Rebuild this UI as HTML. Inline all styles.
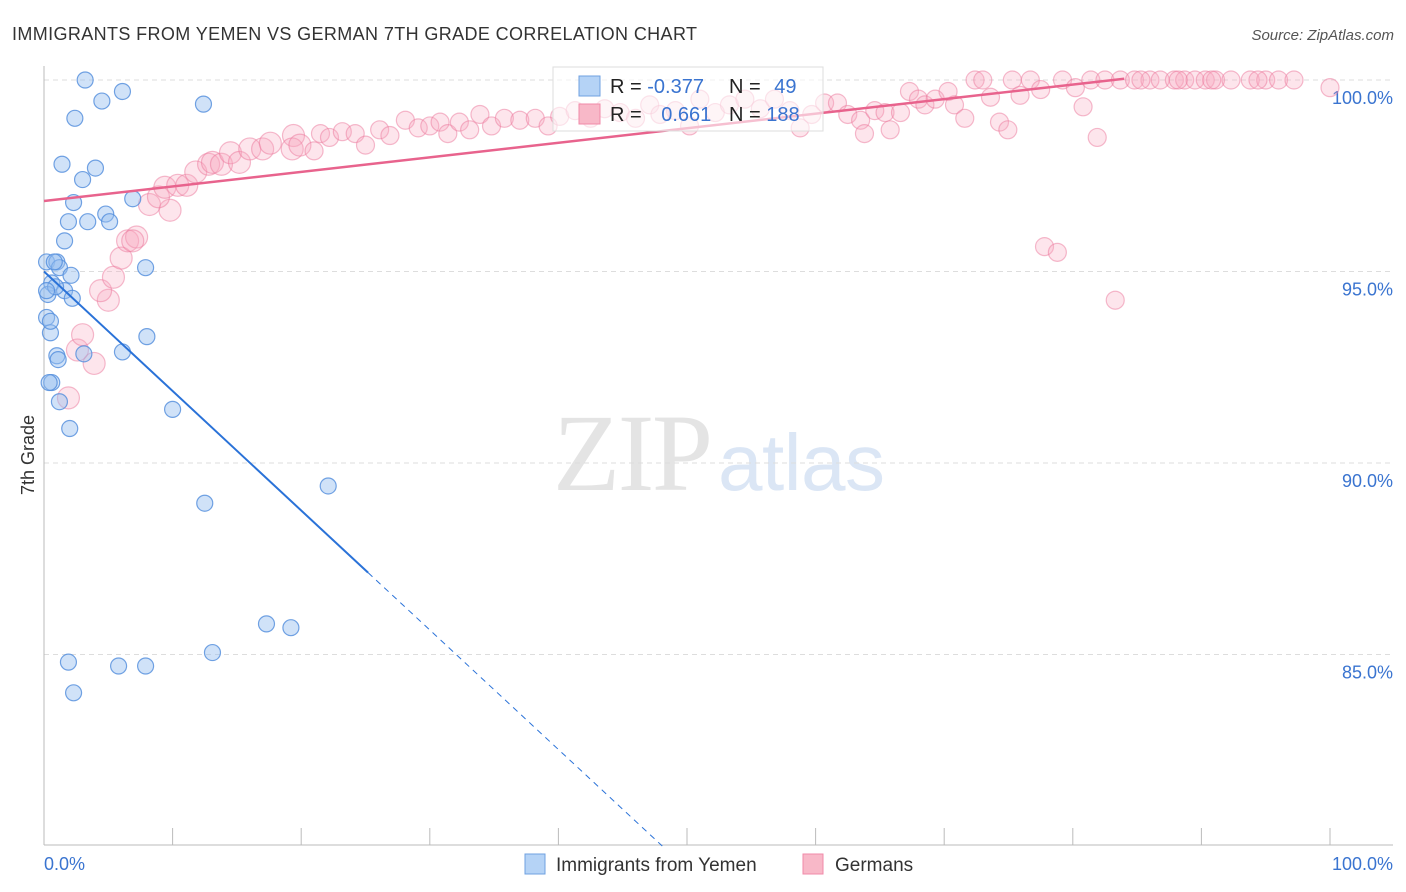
<!DOCTYPE html>
<html><head><meta charset="utf-8">
<style>
body{margin:0;background:#fff;font-family:"Liberation Sans",sans-serif;}
svg{display:block}
</style></head>
<body>
<svg id="chart" width="1406" height="892" viewBox="0 0 1406 892">
<text x="12" y="40" font-size="18" fill="#333" textLength="685">IMMIGRANTS FROM YEMEN VS GERMAN 7TH GRADE CORRELATION CHART</text>
<text x="1394" y="40" font-size="15" fill="#555" font-style="italic" text-anchor="end">Source: ZipAtlas.com</text>
<g>
<text x="553" y="490" font-family="Liberation Serif,serif" font-size="110" fill="#e4e4e4" textLength="160">ZIP</text>
<text x="718" y="490" font-size="80" fill="#dbe6f5" textLength="167">atlas</text>
</g>
<g id="grid"></g>
<g id="axes"></g>
<text transform="translate(34,455) rotate(-90)" font-size="18" fill="#333" text-anchor="middle">7th Grade</text>
<g id="pts"></g>
<g id="trend"></g>
<g>
<rect x="553" y="67" width="270" height="64" fill="#fff" fill-opacity="0.6" stroke="#ddd"/>
<rect x="579" y="76" width="21" height="20" fill="#b5d3f6" stroke="#6fa0e0"/>
<rect x="579" y="104" width="21" height="20" fill="#f8b8c8" stroke="#f08aa8"/>
<text x="610" y="93" font-size="20" fill="#222">R = <tspan fill="#3a74d0">-0.377</tspan></text>
<text x="729" y="93" font-size="20" fill="#222">N = <tspan fill="#3a74d0" dx="8">49</tspan></text>
<text x="610" y="121" font-size="20" fill="#222">R = <tspan fill="#3a74d0" dx="14">0.661</tspan></text>
<text x="729" y="121" font-size="20" fill="#222">N = <tspan fill="#3a74d0">188</tspan></text>
</g>
<g>
<rect x="525" y="854" width="20" height="20" fill="#b5d3f6" stroke="#6fa0e0"/>
<text x="556" y="871" font-size="19" fill="#333">Immigrants from Yemen</text>
<rect x="803" y="854" width="20" height="20" fill="#f8b8c8" stroke="#f08aa8"/>
<text x="835" y="871" font-size="19" fill="#333">Germans</text>
</g>
</svg>
<script>
const yTicks=[100,95,90,85];
const yTickLabels=["100.0%","95.0%","90.0%","85.0%"];
const xTicks=[0,10,20,30,40,50,60,70,80,90,100];
const blueX=[3.2,6.1,4.5,12.4,2.4,1.4,4.0,3.0,2.3,6.9,1.9,3.4,4.8,5.1,1.6,0.2,1.0,1.2,2.1,7.9,0.6,1.6,2.2,0.3,0.2,0.5,8.0,6.1,1.0,3.1,0.6,0.4,1.2,10.0,2.0,12.5,22.1,17.3,19.2,13.1,1.9,5.8,7.9,2.3,0.5,0.9,0.2,1.1,0.8];
const blueY=[100.0,99.7,99.45,99.37,99.0,97.8,97.7,97.4,96.8,96.9,96.3,96.3,96.5,96.3,95.8,95.25,95.25,95.1,94.9,95.1,94.7,94.5,94.3,94.4,93.8,93.4,93.3,92.9,92.8,92.85,92.1,92.1,91.6,91.4,90.9,88.95,89.4,85.8,85.7,85.05,84.8,84.7,84.7,84.0,93.7,94.6,94.5,92.7,95.25];
const pinkX=[1.9,3.9,2.6,3.0,5.0,4.4,5.4,6.0,6.5,7.2,6.9,8.2,9.8,8.9,9.4,10.4,11.1,11.8,12.8,13.1,13.8,14.5,15.2,16.0,17.0,17.6,19.4,19.3,19.9,21.0,21.5,22.2,23.2,24.2,25.0,26.1,26.9,28.1,29.1,30.0,30.8,31.4,32.3,33.1,33.9,34.8,35.8,37.0,38.2,39.2,40.1,41.3,42.5,43.6,44.8,46.0,47.1,47.9,49.1,50.2,51.0,52.2,53.3,54.5,55.7,56.8,58.0,58.8,59.7,60.7,61.7,62.5,63.5,63.8,64.6,65.4,65.8,66.6,67.3,68.0,68.5,69.3,70.3,70.8,71.6,72.4,73.6,74.3,74.95,75.3,75.9,76.7,77.8,78.8,79.2,80.2,80.8,81.4,81.9,82.5,83.3,83.7,84.8,86.0,86.8,87.9,88.7,89.5,90.3,91.1,92.3,93.8,95.0,96.0,97.2,100,77.5,73.0,85.3,88.2,90.8,94.4];
const pinkY=[91.7,92.6,92.95,93.35,94.25,94.5,94.85,95.35,95.8,95.9,95.8,96.75,96.6,96.95,97.2,97.25,97.25,97.6,97.8,97.85,97.8,98.1,97.85,98.2,98.2,98.35,98.55,98.2,98.3,98.15,98.6,98.5,98.65,98.6,98.3,98.7,98.55,98.95,98.75,98.8,98.9,98.6,98.9,98.7,99.1,98.8,99.0,98.95,99.0,98.8,99.05,99.2,99.0,99.25,99.15,99.0,99.35,99.1,99.2,98.8,99.5,99.15,99.35,99.5,99.25,99.5,99.2,98.75,99.1,99.4,99.4,99.1,98.95,98.6,99.2,99.15,98.7,99.15,99.7,99.5,99.35,99.5,99.7,99.35,99.0,100,99.55,98.9,98.7,100,99.6,100,95.65,95.5,100,99.8,99.3,100,98.5,100,94.25,100,100,100,100,100,100,100,100,100,100,100,100,100,100,99.8,99.75,100,100,100,100,100];
const blueTrend=[95.0,-0.312];
const pinkTrend=[96.84,0.038];
const NS="http://www.w3.org/2000/svg";
const X=v=>44+v*12.86;
const Y=v=>80+(100-v)*38.3;
function mk(tag,attrs,parent){const e=document.createElementNS(NS,tag);for(const k in attrs)e.setAttribute(k,attrs[k]);parent.appendChild(e);return e;}
const grid=document.getElementById('grid'),axes=document.getElementById('axes');
yTicks.forEach((t,i)=>{
 mk('line',{x1:44,x2:1393,y1:Y(t),y2:Y(t),stroke:'#ddd','stroke-dasharray':'5,4'},grid);
 const tx=mk('text',{x:1393,y:Y(t)+24,'font-size':18,fill:'#3a74d0','text-anchor':'end'},axes);
 tx.textContent=yTickLabels[i];
 
 
});
mk('line',{x1:44,x2:44,y1:66,y2:845,stroke:'#bbb'},axes);
mk('line',{x1:44,x2:1393,y1:845,y2:845,stroke:'#bbb'},axes);
xTicks.forEach(t=>{mk('line',{x1:X(t),x2:X(t),y1:828,y2:845,stroke:'#bbb'},axes);});
const l0=mk('text',{x:44,y:870,'font-size':18,fill:'#3a74d0'},axes);l0.textContent='0.0%';


const l1=mk('text',{x:1393,y:870,'font-size':18,fill:'#3a74d0','text-anchor':'end'},axes);l1.textContent='100.0%';


const pts=document.getElementById('pts');
pinkX.forEach((x,i)=>{
 const c=mk('circle',{cx:X(x),cy:Y(pinkY[i]),r:x<20?11:9,fill:'rgba(248,170,192,0.3)',stroke:'rgba(236,120,155,0.5)','stroke-width':1.2},pts);
 
 
});
blueX.forEach((x,i)=>{
 const c=mk('circle',{cx:X(x),cy:Y(blueY[i]),r:8,fill:'rgba(150,190,240,0.45)',stroke:'rgba(80,140,220,0.8)','stroke-width':1.2},pts);
 
 
});
const tr=document.getElementById('trend');
const bf=x=>blueTrend[0]+blueTrend[1]*x;
const b1=mk('line',{x1:X(0),y1:Y(bf(0)),x2:X(25.2),y2:Y(bf(25.2)),stroke:'#2a72d8','stroke-width':2},tr);


const xEnd=(80-blueTrend[0])/blueTrend[1];
const b2=mk('line',{x1:X(25.2),y1:Y(bf(25.2)),x2:X(xEnd),y2:Y(bf(xEnd)),stroke:'#2a72d8','stroke-width':1,'stroke-dasharray':'6,5'},tr);


const pf=x=>pinkTrend[0]+pinkTrend[1]*x;
const p1=mk('line',{x1:X(0),y1:Y(pf(0)),x2:X(84),y2:Y(pf(84)),stroke:'#e8638d','stroke-width':2.5},tr);


</script>
</body></html>
